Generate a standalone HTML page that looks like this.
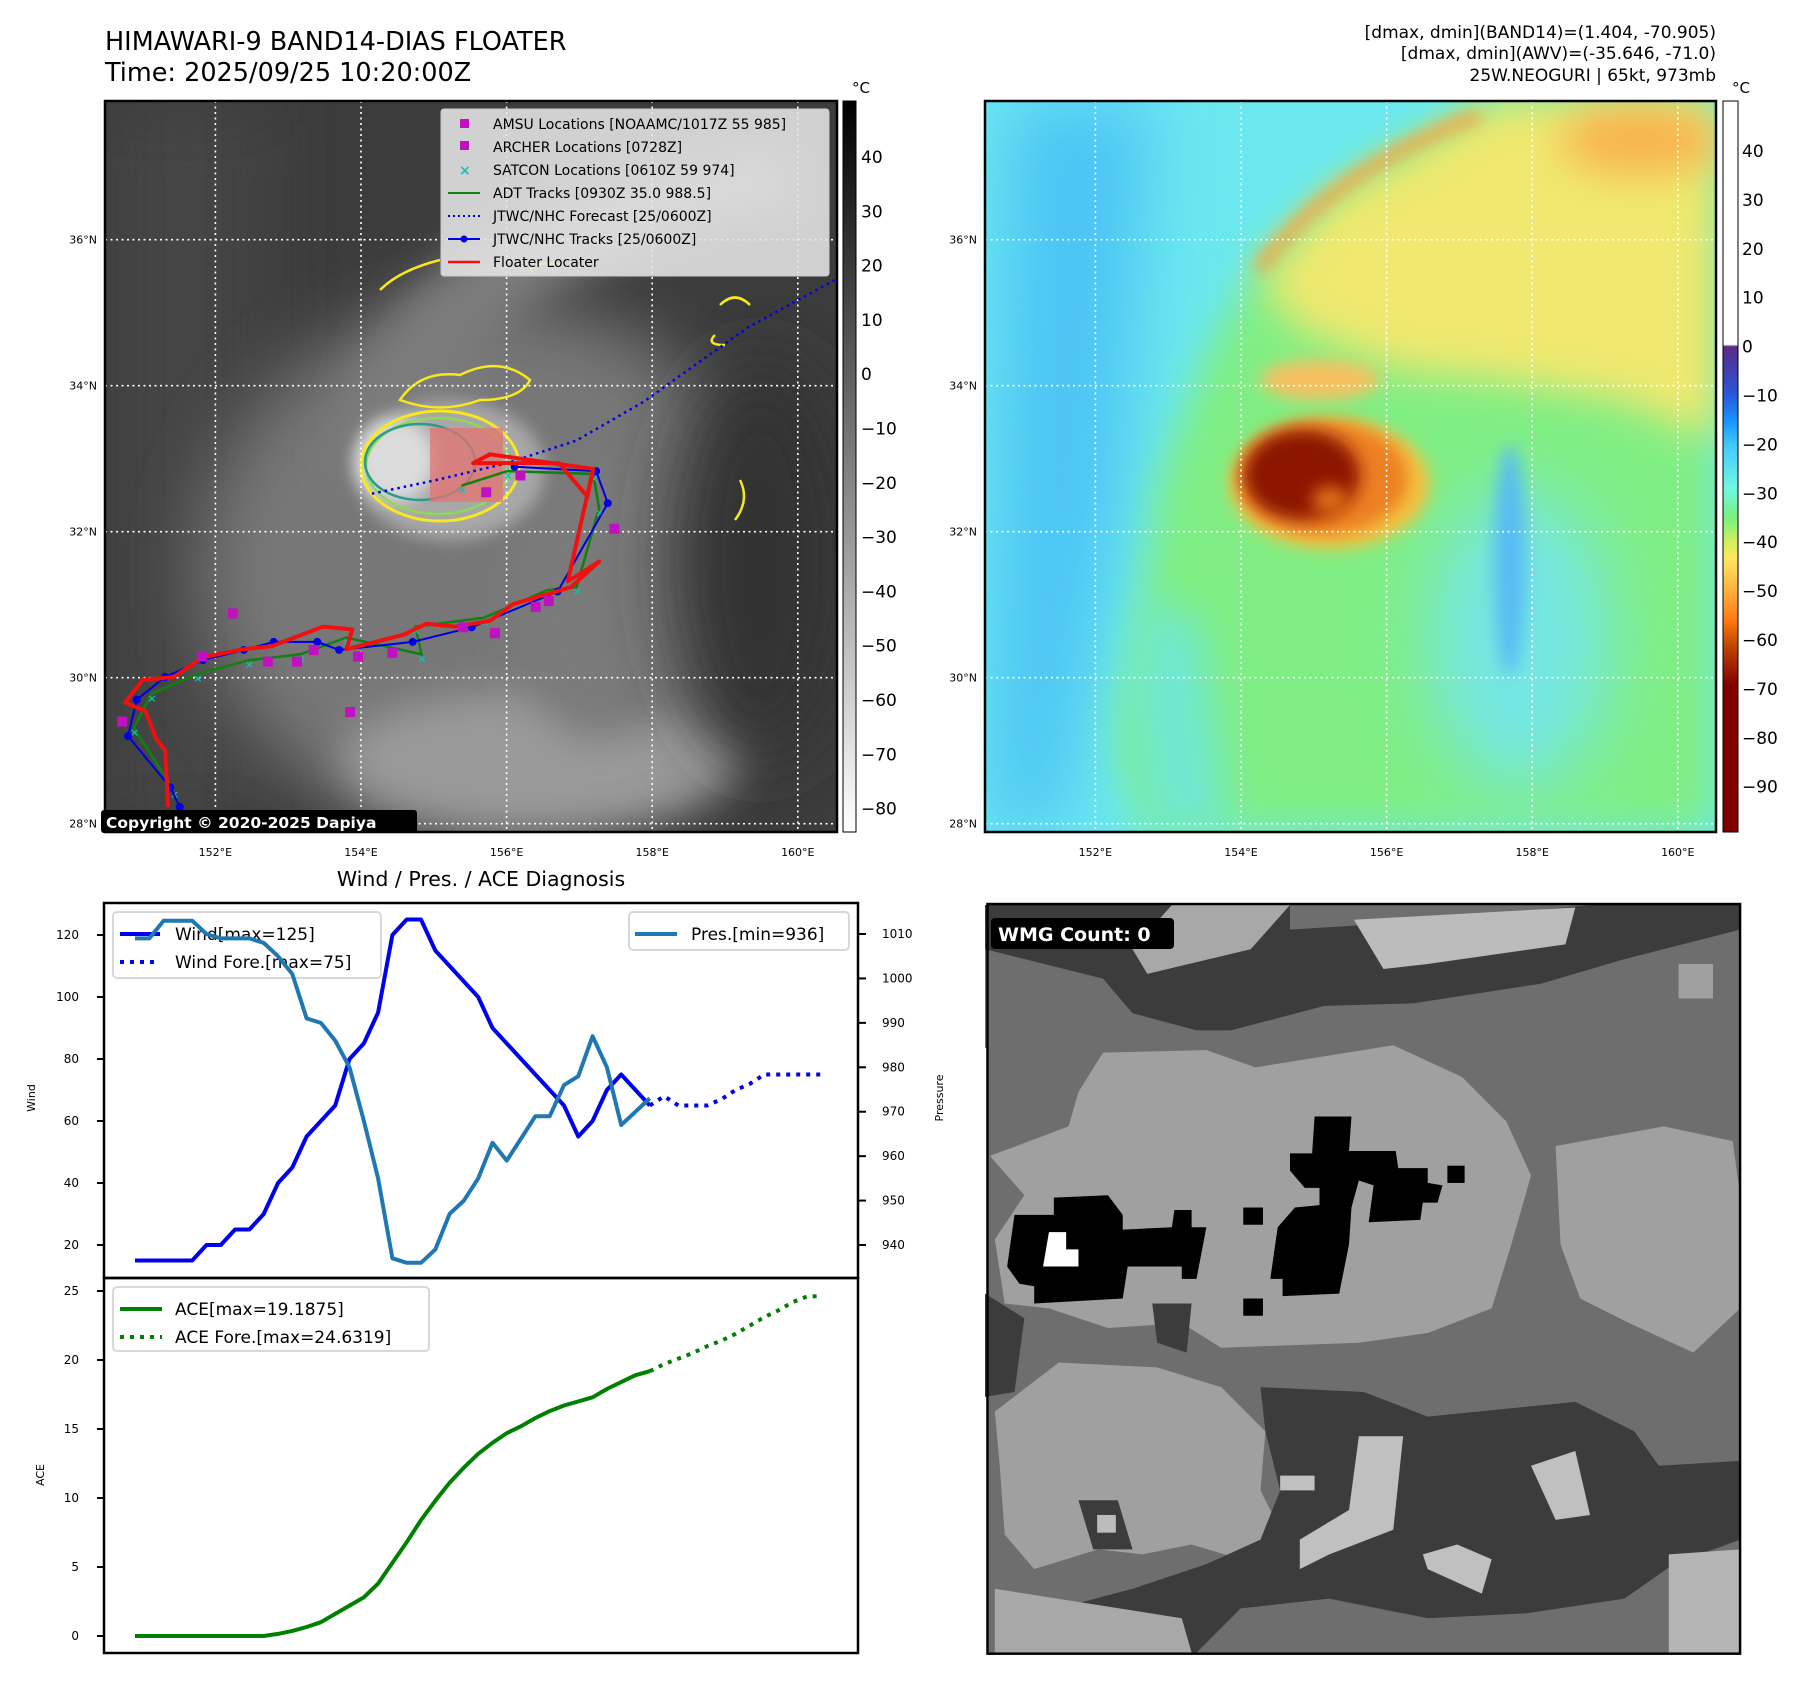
<!DOCTYPE html>
<html><head><meta charset="utf-8"><style>
html,body{margin:0;padding:0;background:#fff;}
svg{display:block;font-family:"DejaVu Sans","Liberation Sans",sans-serif;}
</style></head><body>
<svg id="root" width="1797" height="1690" viewBox="0 0 1797 1690" xmlns="http://www.w3.org/2000/svg">
<defs>
<filter id="b8" x="-50%" y="-50%" width="200%" height="200%"><feGaussianBlur stdDeviation="8"/></filter>
<filter id="b20" x="-50%" y="-50%" width="200%" height="200%"><feGaussianBlur stdDeviation="20"/></filter>
<filter id="b35" x="-50%" y="-50%" width="200%" height="200%"><feGaussianBlur stdDeviation="35"/></filter>
<clipPath id="c1"><rect x="105" y="101" width="732" height="731"/></clipPath>
<clipPath id="c2"><rect x="985" y="101" width="731" height="731"/></clipPath>
<linearGradient id="gcb1" x1="0" y1="0" x2="0" y2="1"><stop offset="0" stop-color="#000"/><stop offset="1" stop-color="#fff"/></linearGradient>
<linearGradient id="gcb2" x1="0" y1="0" x2="0" y2="1">
<stop offset="0" stop-color="#fff"/><stop offset="0.333" stop-color="#fff"/>
<stop offset="0.336" stop-color="#5a2a85"/><stop offset="0.40" stop-color="#2a55d8"/>
<stop offset="0.44" stop-color="#1898ff"/><stop offset="0.47" stop-color="#40c8ff"/>
<stop offset="0.53" stop-color="#70f8e0"/><stop offset="0.57" stop-color="#78f080"/>
<stop offset="0.60" stop-color="#c8f060"/><stop offset="0.625" stop-color="#ffe860"/>
<stop offset="0.67" stop-color="#ffb040"/><stop offset="0.71" stop-color="#ff7a10"/>
<stop offset="0.75" stop-color="#b84000"/><stop offset="0.80" stop-color="#800000"/><stop offset="1" stop-color="#800000"/>
</linearGradient>
</defs>

<!-- Titles -->
<text x="105" y="50" font-size="25.5">HIMAWARI-9 BAND14-DIAS FLOATER</text>
<text x="105" y="81" font-size="25.5">Time: 2025/09/25 10:20:00Z</text>
<text x="1716" y="38" font-size="17" text-anchor="end">[dmax, dmin](BAND14)=(1.404, -70.905)</text>
<text x="1716" y="59" font-size="17" text-anchor="end">[dmax, dmin](AWV)=(-35.646, -71.0)</text>
<text x="1716" y="81" font-size="17" text-anchor="end">25W.NEOGURI | 65kt, 973mb</text>

<!-- Map 1 -->
<g clip-path="url(#c1)">
<rect x="105" y="101" width="732" height="731" fill="#3c3c3c"/>
<rect x="105" y="101" width="160" height="731" fill="#444" filter="url(#b35)"/>
<ellipse cx="490" cy="570" rx="290" ry="270" fill="#777" filter="url(#b35)"/>
<path d="M330,470 Q360,300 500,230 Q620,170 780,150 L800,200 Q640,230 540,300 Q440,380 420,480 Z" fill="#7c7c7c" filter="url(#b20)"/>
<ellipse cx="540" cy="760" rx="200" ry="70" fill="#9a9a9a" filter="url(#b20)"/>
<ellipse cx="600" cy="600" rx="90" ry="140" fill="#7a7a7a" filter="url(#b20)"/>
<ellipse cx="450" cy="470" rx="95" ry="70" fill="#a8a8a8" filter="url(#b8)"/>
<ellipse cx="395" cy="460" rx="40" ry="42" fill="#dcdcdc" filter="url(#b8)"/>
<ellipse cx="760" cy="560" rx="90" ry="200" fill="#333" filter="url(#b35)"/>
<ellipse cx="440" cy="466" rx="79" ry="55" fill="none" stroke="#f7e820" stroke-width="3"/>
<ellipse cx="438" cy="466" rx="72" ry="48" fill="none" stroke="#8fd85a" stroke-width="2.5"/>
<ellipse cx="420" cy="462" rx="55" ry="38" fill="none" stroke="#2a9a8a" stroke-width="2.5"/>
<path d="M400,400 q20,-30 60,-25 q40,-20 70,5 q-10,20 -50,20 q-40,15 -80,0z" fill="none" stroke="#f7e820" stroke-width="2.5"/>
<path d="M380,290 q20,-20 60,-30 M530,270 q10,-10 30,-5 M720,305 q15,-15 30,0 M715,335 q-10,10 10,10 M740,480 q10,20 -5,40" fill="none" stroke="#f7e820" stroke-width="2.5"/>
<rect x="430" y="428" width="73" height="74" fill="#e87070" fill-opacity="0.72"/>
<g id="gridlines1" stroke="#fff" stroke-width="1.6" stroke-dasharray="2,3.5"></g>
<g id="tracks1"></g>
</g>
<rect x="105" y="101" width="732" height="731" fill="none" stroke="#000" stroke-width="2.5"/>
<g id="axislabels1"></g>
<rect x="101" y="810" width="316" height="23" rx="3" fill="#000"/>
<text x="106" y="828" font-size="15.5" font-weight="bold" fill="#fff">Copyright © 2020-2025 Dapiya</text>

<!-- Map1 legend -->
<g>
<rect x="441" y="109" width="388" height="167" rx="3" fill="#e6e6e6" fill-opacity="0.88" stroke="#ccc"/>
<rect x="460" y="119" width="9" height="9" fill="#c010c0"/>
<text x="493" y="129" font-size="14">AMSU Locations [NOAAMC/1017Z 55 985]</text>
<rect x="460" y="141" width="9" height="9" fill="#c010c0"/>
<text x="493" y="152" font-size="14">ARCHER Locations [0728Z]</text>
<text x="459" y="175" font-size="14" font-weight="bold" fill="#10c0c0">×</text>
<text x="493" y="175" font-size="14">SATCON Locations [0610Z 59 974]</text>
<line x1="448" y1="193" x2="480" y2="193" stroke="#108010" stroke-width="2"/>
<text x="493" y="198" font-size="14">ADT Tracks [0930Z 35.0 988.5]</text>
<line x1="448" y1="216" x2="480" y2="216" stroke="#0000e0" stroke-width="2" stroke-dasharray="2,3"/>
<text x="493" y="221" font-size="14">JTWC/NHC Forecast [25/0600Z]</text>
<line x1="448" y1="239" x2="480" y2="239" stroke="#0000e0" stroke-width="2"/><circle cx="464" cy="239" r="3.5" fill="#0000e0"/>
<text x="493" y="244" font-size="14">JTWC/NHC Tracks [25/0600Z]</text>
<line x1="448" y1="262" x2="480" y2="262" stroke="#f01010" stroke-width="2.5"/>
<text x="493" y="267" font-size="14">Floater Locater</text>
</g>

<!-- Colorbar 1 -->
<rect x="843" y="101" width="13" height="731" fill="url(#gcb1)" stroke="#000" stroke-width="1"/>
<text x="852" y="93" font-size="15">°C</text>
<g id="cb1labels"></g>

<!-- Map 2 -->
<g clip-path="url(#c2)">
<rect x="985" y="101" width="731" height="731" fill="#6ae8f0"/>
<path d="M1010,101 L1150,101 L1120,500 L1060,832 L990,832 Z" fill="#4cc4f4" filter="url(#b35)"/>
<path d="M1489,101 L1716,101 L1716,832 L1143,832 L1116,743 L1143,585 L1158,480 L1206,354 L1258,260 L1353,176 Z" fill="#80ee84" filter="url(#b20)"/>
<path d="M1150,832 L1130,700 L1145,600 L1200,620 L1230,832 Z" fill="#70e8d0" filter="url(#b20)"/>
<ellipse cx="1520" cy="640" rx="90" ry="150" fill="#74e6e4" filter="url(#b35)"/>
<path d="M1500,101 L1716,101 L1716,440 L1620,400 L1500,380 L1400,370 L1300,330 L1260,280 L1330,200 Z" fill="#f0e870" filter="url(#b20)"/>
<path d="M1258,270 Q1330,170 1480,115" fill="none" stroke="#f6a040" stroke-width="12" filter="url(#b8)"/>
<ellipse cx="1640" cy="140" rx="80" ry="35" fill="#f8b450" filter="url(#b20)"/>
<ellipse cx="1320" cy="380" rx="60" ry="20" fill="#f8c060" filter="url(#b8)"/>
<ellipse cx="1330" cy="484" rx="100" ry="65" fill="#f6c040" filter="url(#b8)"/>
<ellipse cx="1323" cy="478" rx="85" ry="57" fill="#ec8020" filter="url(#b8)"/>
<ellipse cx="1302" cy="475" rx="58" ry="45" fill="#8c1800" filter="url(#b8)"/>
<ellipse cx="1330" cy="500" rx="18" ry="14" fill="#e07018" filter="url(#b8)"/>
<ellipse cx="1510" cy="560" rx="16" ry="115" fill="#58bcf2" filter="url(#b8)"/>
</g>
<g id="gridlines2" clip-path="url(#c2)" stroke="#fff" stroke-width="1.6" stroke-dasharray="2,3.5"></g>
<rect x="985" y="101" width="731" height="731" fill="none" stroke="#000" stroke-width="2.5"/>
<g id="axislabels2"></g>
<rect x="1723" y="101" width="15" height="731" fill="url(#gcb2)" stroke="#000" stroke-width="1"/>
<text x="1732" y="93" font-size="15">°C</text>
<g id="cb2labels"></g>

<!-- Diagnosis chart -->
<text x="481" y="886" font-size="20.5" text-anchor="middle">Wind / Pres. / ACE Diagnosis</text>
<rect x="104" y="903" width="754" height="375" fill="#fff"/>
<rect x="104" y="1278" width="754" height="375" fill="#fff"/>
<g>
<rect x="113" y="912" width="268" height="66" rx="4" fill="#fff" fill-opacity="0.8" stroke="#d8d8d8" stroke-width="2"/>
<line x1="120" y1="934" x2="160" y2="934" stroke="#0000f0" stroke-width="4"/>
<text x="175" y="940" font-size="17">Wind[max=125]</text>
<line x1="120" y1="962" x2="160" y2="962" stroke="#0000f0" stroke-width="4" stroke-dasharray="4,6"/>
<text x="175" y="968" font-size="17">Wind Fore.[max=75]</text>
</g>
<g id="chart"></g>
<rect x="104" y="903" width="754" height="375" fill="none" stroke="#000" stroke-width="2.5"/>
<rect x="104" y="1278" width="754" height="375" fill="none" stroke="#000" stroke-width="2.5"/>
<text transform="translate(35,1098) rotate(-90)" font-size="11" text-anchor="middle">Wind</text>
<text transform="translate(943,1098) rotate(-90)" font-size="11" text-anchor="middle">Pressure</text>
<text transform="translate(44,1475) rotate(-90)" font-size="11" text-anchor="middle">ACE</text>

<g>
<rect x="629" y="912" width="220" height="38" rx="4" fill="#fff" fill-opacity="0.8" stroke="#d8d8d8" stroke-width="2"/>
<line x1="635" y1="934" x2="677" y2="934" stroke="#1f77b4" stroke-width="4"/>
<text x="691" y="940" font-size="17">Pres.[min=936]</text>
</g>
<g>
<rect x="113" y="1287" width="316" height="64" rx="4" fill="#fff" fill-opacity="0.8" stroke="#d8d8d8" stroke-width="2"/>
<line x1="120" y1="1309" x2="162" y2="1309" stroke="#008000" stroke-width="4"/>
<text x="175" y="1315" font-size="17">ACE[max=19.1875]</text>
<line x1="120" y1="1337" x2="162" y2="1337" stroke="#008000" stroke-width="4" stroke-dasharray="4,6"/>
<text x="175" y="1343" font-size="17">ACE Fore.[max=24.6319]</text>
</g>

<!-- WMG panel -->
<svg x="985" y="900" width="760" height="770" viewBox="0 0 1545 1565">
<rect x="5" y="8" width="1530" height="1524" fill="#6e6e6e"/>
<path d="M0,10 L620,10 L620,60 L780,50 L1230,10 L1535,10 L1535,60 L1300,120 L1130,170 L870,210 L690,215 L500,265 L430,265 L300,230 L240,160 L0,100 Z" fill="#3c3c3c"/>
<path d="M750,40 L1200,15 L1180,90 L900,130 L810,140 L780,90 Z" fill="#bcbcbc"/>
<path d="M380,10 L620,10 L540,100 L330,150 L300,100 Z" fill="#a8a8a8"/>
<path d="M0,100 L240,160 L230,300 L80,330 L0,300 Z" fill="#6e6e6e"/>
<path d="M1410,130 L1480,130 L1480,200 L1410,200 Z" fill="#a0a0a0"/>
<path d="M240,310 L450,305 L550,340 L830,295 L970,360 L1060,450 L1110,560 L1070,700 L1030,830 L900,880 L760,900 L480,910 L400,860 L250,870 L130,830 L40,820 L20,690 L80,600 L10,520 L170,460 L190,390 Z" fill="#a0a0a0"/>
<path d="M1160,500 L1380,460 L1520,490 L1535,600 L1535,830 L1440,920 L1310,860 L1210,810 L1170,700 Z" fill="#a0a0a0"/>
<path d="M20,1040 L150,940 L350,950 L480,990 L570,1080 L560,1200 L600,1280 L520,1340 L420,1310 L320,1330 L230,1320 L100,1360 L40,1290 L30,1150 Z" fill="#a0a0a0"/>
<path d="M560,990 L770,1000 L900,1050 L1200,1020 L1320,1080 L1370,1150 L1535,1140 L1535,1300 L1400,1350 L1300,1420 L1100,1450 L900,1460 L700,1420 L520,1440 L430,1530 L200,1532 L150,1440 L300,1400 L450,1350 L560,1300 L600,1200 L570,1080 Z" fill="#3c3c3c"/>
<path d="M0,800 L80,850 L60,1000 L0,1010 Z" fill="#3c3c3c"/>
<path d="M340,820 L420,820 L410,920 L350,900 Z" fill="#3c3c3c"/>
<path d="M760,1090 L850,1090 L830,1280 L700,1330 L640,1360 L640,1300 L740,1240 Z" fill="#c0c0c0"/>
<path d="M1110,1150 L1200,1120 L1230,1250 L1160,1260 Z" fill="#c0c0c0"/>
<path d="M890,1330 L960,1310 L1030,1340 L1010,1410 L900,1360 Z" fill="#c0c0c0"/>
<path d="M600,1170 L670,1170 L670,1200 L600,1200 Z" fill="#c0c0c0"/>
<path d="M20,1400 L400,1460 L420,1530 L20,1530 Z" fill="#a8a8a8"/>
<path d="M1390,1330 L1535,1320 L1535,1530 L1390,1530 Z" fill="#b4b4b4"/>
<path d="M190,1220 L270,1220 L300,1320 L220,1320 Z" fill="#3c3c3c"/>
<rect x="228" y="1250" width="38" height="36" fill="#bcbcbc"/>
<path d="M60,640 L140,640 L140,605 L250,600 L280,640 L280,670 L380,665 L385,630 L420,630 L420,665 L450,665 L430,770 L400,770 L400,745 L290,745 L280,810 L100,820 L100,785 L70,780 L45,745 Z" fill="#000"/>
<path d="M130,675 L165,675 L165,710 L190,710 L190,745 L118,745 Z" fill="#fff"/>
<path d="M670,440 L745,440 L740,510 L835,510 L840,545 L900,545 L900,575 L930,580 L920,615 L890,615 L885,650 L780,655 L790,580 L760,570 L745,625 L740,700 L720,800 L605,805 L605,770 L580,770 L595,665 L630,625 L680,620 L680,585 L650,585 L620,550 L620,515 L665,515 Z" fill="#000"/>
<rect x="525" y="625" width="40" height="35" fill="#000"/>
<rect x="525" y="810" width="40" height="35" fill="#000"/>
<rect x="940" y="540" width="35" height="35" fill="#000"/>
<rect x="5" y="8" width="1530" height="1524" fill="none" stroke="#000" stroke-width="5"/>
</svg>
<rect x="991" y="918" width="183" height="31" rx="4" fill="#000"/>
<text x="998" y="941" font-size="19" font-weight="bold" fill="#fff">WMG Count: 0</text>
</svg>

<script>
// ===== Diagnosis chart data =====
const windObs = [15,15,15,15,15,20,20,25,25,30,40,45,55,60,65,80,85,95,120,125,125,115,110,105,100,90,85,80,75,70,65,55,60,70,75,70,65];
const windFore = [65,68,65,65,65,67,70,72,75,75,75,75,75];
const presObs = [1009,1009,1013,1013,1013,1010,1009,1009,1009,1008,1005,1001,991,990,986,980,968,955,937,936,936,939,947,950,955,963,959,964,969,969,976,978,987,980,967,970,973];
const aceObs = [0,0,0,0,0,0,0,0,0,0,0.15,0.37,0.65,1.0,1.6,2.2,2.8,3.8,5.3,6.8,8.4,9.8,11.1,12.2,13.2,14.0,14.7,15.2,15.8,16.3,16.7,17.0,17.3,17.9,18.4,18.9,19.19];
const aceFore = [19.19,19.7,20.1,20.5,21.0,21.4,21.9,22.5,23.1,23.6,24.2,24.6,24.63];
const windTicks = [20,40,60,80,100,120];
const presTicks = [940,950,960,970,980,990,1000,1010];
const aceTicks = [0,5,10,15,20,25];

// ===== Map data =====
const lonTicks = [152,154,156,158,160];
const latTicks = [28,30,32,34,36];
const cb1Ticks = [40,30,20,10,0,-10,-20,-30,-40,-50,-60,-70,-80];
const cb2Ticks = [40,30,20,10,0,-10,-20,-30,-40,-50,-60,-70,-80,-90];
const jtwcLon = [151.51,151.38,150.80,150.92,151.31,151.83,152.39,152.80,153.40,153.70,154.71,155.52,156.70,157.39,157.23,156.11];
const jtwcLat = [28.23,28.50,29.20,29.70,30.01,30.24,30.38,30.49,30.49,30.38,30.49,30.69,31.18,32.39,32.83,32.89];
const foreLon = [154.15,155.0,156.01,156.96,157.90,158.54,159.32,160.6];
const foreLat = [32.52,32.70,32.94,33.25,33.79,34.25,34.80,35.5];
const redLon = [151.35,151.31,151.19,151.04,150.76,151.00,151.43,151.83,152.38,152.77,153.48,153.88,153.80,154.12,154.59,154.90,155.30,155.77,156.09,156.88,157.27,156.84,157.19,157.11,156.72,156.01,155.54,155.77,157.19];
const redLat = [28.23,29.00,29.16,29.54,29.66,29.97,30.01,30.28,30.39,30.43,30.70,30.66,30.39,30.47,30.59,30.74,30.70,30.78,31.01,31.24,31.59,31.32,32.86,32.48,32.94,32.94,32.94,33.06,32.86];
const adtLon = [151.43,150.88,151.12,151.75,152.46,153.17,153.80,154.83,154.75,155.69,156.56,156.96,157.27,157.19,156.01,155.38];
const adtLat = [28.46,29.31,29.78,30.05,30.24,30.32,30.55,30.32,30.70,30.82,31.20,31.24,32.32,32.79,32.83,32.63];
const amsuLon = [152.24,151.82,152.72,153.12,153.35,153.96,153.85,154.43,155.40,155.84,156.40,156.58,155.72,156.19,157.48,150.72];
const amsuLat = [30.88,30.29,30.22,30.22,30.38,30.29,29.53,30.34,30.69,30.61,30.97,31.05,32.54,32.77,32.04,29.40];

const NS = 'http://www.w3.org/2000/svg';
function mk(tag, attrs, parent){ const e=document.createElementNS(NS,tag); for(const k in attrs) e.setAttribute(k,attrs[k]); parent.appendChild(e); return e; }
function gx(lon, off){ return 215.4 + (lon-152)*72.8 + off; }
function gy(lat){ return 823.7 - (lat-28)*73.0; }
function xI(i){ return 135 + i*14.3; }
function yW(v){ return 935 + (120-v)*3.1; }
function yP(p){ return 934 + (1010-p)*4.443; }
function yA(v){ return 1636 - v*13.8; }

[[0,'gridlines1','axislabels1'],[880,'gridlines2','axislabels2']].forEach(([off,gid,lid])=>{
  const g=document.getElementById(gid), l=document.getElementById(lid);
  lonTicks.forEach(lo=>{
    const ln=mk('line',{x1:gx(lo,off),x2:gx(lo,off),y1:101,y2:832},g);
    
    
    const t=mk('text',{x:gx(lo,off),y:856,'font-size':11,'text-anchor':'middle'},l);
    t.textContent=lo+'°E';
    
    
  });
  latTicks.forEach(la=>{
    const ln=mk('line',{x1:105+off,x2:837+off,y1:gy(la),y2:gy(la)},g);
    
    
    const t=mk('text',{x:97+off,y:gy(la)+4,'font-size':11,'text-anchor':'end'},l);
    t.textContent=la+'°N';
    
    
  });
});

cb1Ticks.forEach(v=>{
  const t=mk('text',{x:861,y:157+(40-v)*5.43+6,'font-size':17},document.getElementById('cb1labels'));
  t.textContent=(v<0?'\u2212'+(-v):String(v));
  
  
});
cb2Ticks.forEach(v=>{
  const t=mk('text',{x:1742,y:151+(40-v)*4.89+6,'font-size':17},document.getElementById('cb2labels'));
  t.textContent=(v<0?'\u2212'+(-v):String(v));
  
  
});

const tr=document.getElementById('tracks1');
function pts(lons,lats){ return lons.map((lo,i)=>gx(lo,0).toFixed(1)+','+gy(lats[i]).toFixed(1)).join(' '); }
let p;
p=mk('polyline',{points:pts(adtLon,adtLat),fill:'none',stroke:'#108010','stroke-width':2.5},tr);


adtLon.forEach((lo,i)=>{
  const t=mk('text',{x:gx(lo,0)-4,y:gy(adtLat[i])+8,'font-size':11,'font-weight':'bold',fill:'#10c0b0'},tr);
  t.textContent='×';
  
  
});
p=mk('polyline',{points:pts(foreLon,foreLat),fill:'none',stroke:'#0000e0','stroke-width':2.5,'stroke-dasharray':'2.5,4'},tr);


p=mk('polyline',{points:pts(jtwcLon,jtwcLat),fill:'none',stroke:'#0000e0','stroke-width':2},tr);


jtwcLon.forEach((lo,i)=>{
  const c=mk('circle',{cx:gx(lo,0),cy:gy(jtwcLat[i]),r:4,fill:'#0000e0'},tr);
  
  
});
p=mk('polyline',{points:pts(redLon,redLat),fill:'none',stroke:'#f01010','stroke-width':4,'stroke-linejoin':'round'},tr);


amsuLon.forEach((lo,i)=>{
  const r=mk('rect',{x:gx(lo,0)-5,y:gy(amsuLat[i])-5,width:10,height:10,fill:'#c010c0'},tr);
  
  
});

const ch=document.getElementById('chart');
windTicks.forEach(v=>{
  mk('line',{x1:97,x2:104,y1:yW(v),y2:yW(v),stroke:'#000','stroke-width':2},ch);
  const t=mk('text',{x:79,y:yW(v)+4,'font-size':12,'text-anchor':'end'},ch);
  t.textContent=v;
  
  
});
presTicks.forEach(v=>{
  mk('line',{x1:858,x2:866,y1:yP(v),y2:yP(v),stroke:'#000','stroke-width':2},ch);
  const t=mk('text',{x:882,y:yP(v)+4,'font-size':12},ch);
  t.textContent=v;
  
  
});
aceTicks.forEach(v=>{
  mk('line',{x1:97,x2:104,y1:yA(v),y2:yA(v),stroke:'#000','stroke-width':2},ch);
  const t=mk('text',{x:79,y:yA(v)+4,'font-size':12,'text-anchor':'end'},ch);
  t.textContent=v;
  
  
});
function line(arr,start,fy,color,dash,name){
  const el=mk('polyline',{points:arr.map((v,i)=>xI(start+i).toFixed(1)+','+fy(v).toFixed(1)).join(' '),fill:'none',stroke:color,'stroke-width':4,'stroke-linejoin':'round'},ch);
  if(dash) el.setAttribute('stroke-dasharray',dash);
  
  
}
line(windObs,0,yW,'#0000f0',null,'wind-line');
line(windFore,windObs.length-1,yW,'#0000f0','4,6','wind-forecast-line');
line(presObs,0,yP,'#1f77b4',null,'pressure-line');
line(aceObs,0,yA,'#008000',null,'ace-line');
line(aceFore,aceObs.length-1,yA,'#008000','4,6','ace-forecast-line');
</script>
</body></html>
